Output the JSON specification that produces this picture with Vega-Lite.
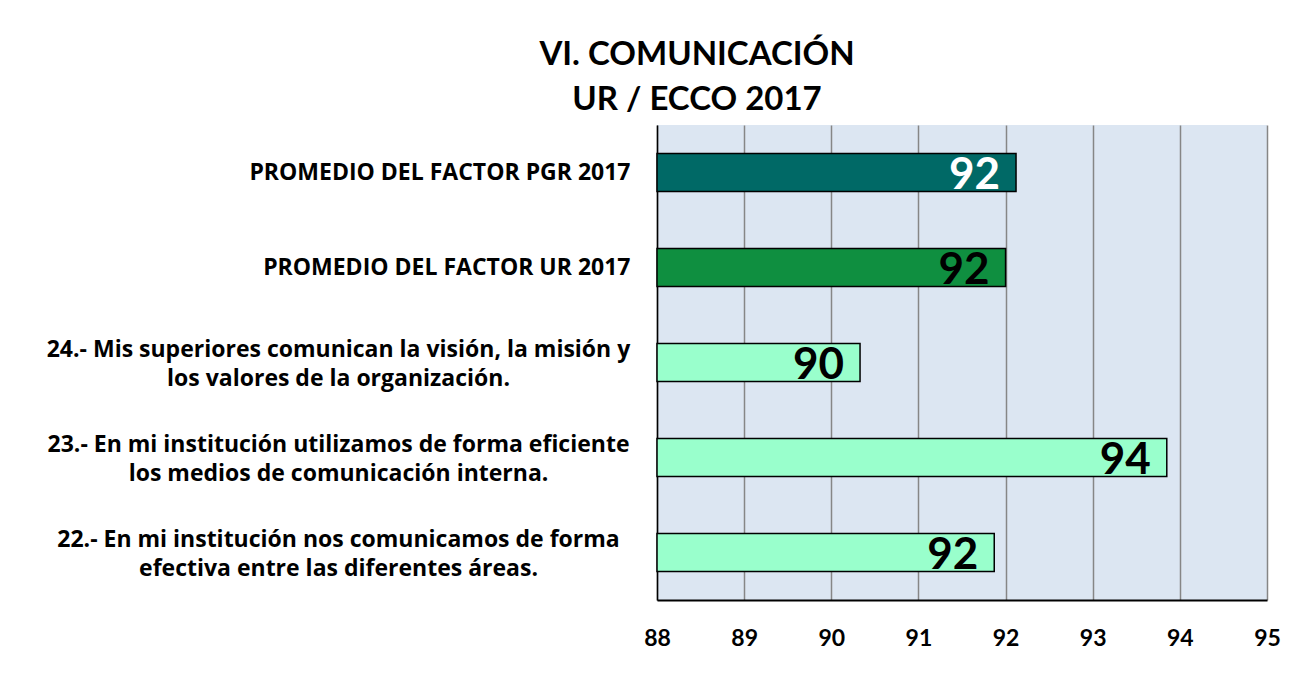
{
  "$schema": "https://vega.github.io/schema/vega-lite/v6.json",
  "autosize": {"type": "none"},
  "width": 610,
  "height": 475,
  "padding": {"left": 657, "top": 125, "right": 25, "bottom": 78},
  "background": "white",
  "title": {
    "text": ["VI. COMUNICACIÓN", "UR / ECCO 2017"],
    "font": "Lato",
    "fontSize": 33,
    "fontWeight": "bold",
    "color": "black",
    "lineHeight": 45,
    "anchor": "middle",
    "frame": "group",
    "dx": -265,
    "offset": 8
  },
  "data": {
    "values": [
      {"pregunta": "PROMEDIO DEL FACTOR PGR 2017", "valor": 92.12, "grupo": "PGR"},
      {"pregunta": "PROMEDIO DEL FACTOR UR 2017", "valor": 92.0, "grupo": "UR"},
      {"pregunta": "24.- Mis superiores comunican la visión, la misión y|los valores de la organización.", "valor": 90.33, "grupo": "Reactivo"},
      {"pregunta": "23.- En mi institución utilizamos de forma eficiente|los medios de comunicación interna.", "valor": 93.85, "grupo": "Reactivo"},
      {"pregunta": "22.- En mi institución nos comunicamos de forma|efectiva entre las diferentes áreas.", "valor": 91.87, "grupo": "Reactivo"}
    ]
  },
  "encoding": {
    "y": {
      "field": "pregunta",
      "type": "nominal",
      "sort": null,
      "scale": {"paddingInner": 0.6, "paddingOuter": 0.3},
      "axis": {
        "title": null,
        "labelExpr": "split(datum.label, '|')",
        "labelFont": "Open Sans",
        "labelFontSize": 23,
        "labelFontWeight": "bold",
        "labelColor": "black",
        "labelLimit": 0,
        "labelLineHeight": 29,
        "labelAlign": {"condition": {"test": "indexof(datum.value, '|') >= 0", "value": "center"}, "value": "right"},
        "labelPadding": {"condition": {"test": "indexof(datum.value, '|') >= 0", "value": 319}, "value": 27},
        "labelOffset": {"condition": {"test": "indexof(datum.value, '|') >= 0", "value": -13}, "value": 0},
        "ticks": false,
        "domain": true,
        "domainColor": "black",
        "domainWidth": 1.5
      }
    }
  },
  "layer": [
    {
      "mark": {"type": "bar", "stroke": "black", "strokeWidth": 1.5},
      "encoding": {
        "x": {
          "field": "valor",
          "type": "quantitative",
          "scale": {"domain": [88, 95], "zero": false, "nice": false},
          "axis": {
            "title": null,
            "values": [88, 89, 90, 91, 92, 93, 94, 95],
            "format": "d",
            "grid": true,
            "gridColor": "#868686",
            "gridWidth": 1.5,
            "ticks": false,
            "domain": true,
            "domainColor": "black",
            "domainWidth": 2,
            "labelFlush": false,
            "labelFont": "Lato",
            "labelFontSize": 23,
            "labelFontWeight": "bold",
            "labelColor": "black",
            "labelPadding": 27
          }
        },
        "x2": {"datum": 88},
        "color": {
          "field": "grupo",
          "type": "nominal",
          "scale": {"domain": ["PGR", "UR", "Reactivo"], "range": ["#006966", "#0F8F40", "#99FFCC"]},
          "legend": null
        }
      }
    },
    {
      "mark": {"type": "text", "align": "right", "baseline": "alphabetic", "dx": -16, "dy": 16, "font": "Lato", "fontSize": 44, "fontWeight": "bold"},
      "encoding": {
        "x": {"field": "valor", "type": "quantitative"},
        "text": {"field": "valor", "type": "quantitative", "format": ".0f"},
        "color": {
          "condition": {"test": "datum.grupo === 'PGR'", "value": "white"},
          "value": "black"
        }
      }
    }
  ],
  "config": {
    "view": {"fill": "#DCE6F2", "stroke": null}
  }
}
